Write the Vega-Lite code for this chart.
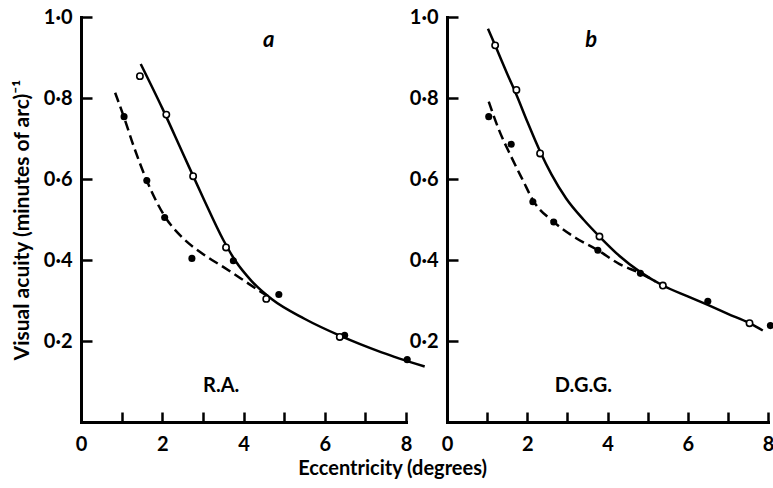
{
  "$schema": "https://vega.github.io/schema/vega-lite/v6.json",
  "background": "white",
  "padding": {"left": 11, "top": 7, "right": 0, "bottom": 4},
  "spacing": 41,
  "bounds": "flush",
  "config": {
    "view": {"stroke": null},
    "font": "Lato",
    "axis": {
      "grid": false,
      "domainColor": "black",
      "domainWidth": 3,
      "domainCap": "square",
      "ticks": true,
      "tickColor": "black",
      "tickWidth": 2.5,
      "labelFont": "Lato",
      "labelFontWeight": "bold",
      "labelFontSize": 20,
      "labelColor": "black",
      "labelFlush": false,
      "labelOverlap": false,
      "titleFont": "Lato",
      "titleFontWeight": "bold",
      "titleFontSize": 21,
      "titleColor": "black"
    }
  },
  "title": {
    "text": "Eccentricity (degrees)",
    "orient": "bottom",
    "anchor": "middle",
    "frame": "bounds",
    "font": "Lato",
    "fontSize": 20,
    "fontWeight": "bold",
    "color": "black",
    "offset": 5
  },
  "datasets": {
    "curves": [
      {"panel": "a", "curve": "solid", "x": 1.47, "y": 0.884},
      {"panel": "a", "curve": "solid", "x": 2.0, "y": 0.775},
      {"panel": "a", "curve": "solid", "x": 2.5, "y": 0.665},
      {"panel": "a", "curve": "solid", "x": 3.0, "y": 0.555},
      {"panel": "a", "curve": "solid", "x": 3.5, "y": 0.45},
      {"panel": "a", "curve": "solid", "x": 3.8, "y": 0.398},
      {"panel": "a", "curve": "solid", "x": 4.2, "y": 0.348},
      {"panel": "a", "curve": "solid", "x": 4.7, "y": 0.303},
      {"panel": "a", "curve": "solid", "x": 5.5, "y": 0.255},
      {"panel": "a", "curve": "solid", "x": 6.4, "y": 0.212},
      {"panel": "a", "curve": "solid", "x": 7.4, "y": 0.172},
      {"panel": "a", "curve": "solid", "x": 8.46, "y": 0.137},
      {"panel": "a", "curve": "dashed", "x": 0.84, "y": 0.813},
      {"panel": "a", "curve": "dashed", "x": 1.06, "y": 0.752},
      {"panel": "a", "curve": "dashed", "x": 1.3, "y": 0.68},
      {"panel": "a", "curve": "dashed", "x": 1.62, "y": 0.596},
      {"panel": "a", "curve": "dashed", "x": 2.06, "y": 0.508},
      {"panel": "a", "curve": "dashed", "x": 2.5, "y": 0.455},
      {"panel": "a", "curve": "dashed", "x": 3.0, "y": 0.415},
      {"panel": "a", "curve": "dashed", "x": 3.5, "y": 0.383},
      {"panel": "a", "curve": "dashed", "x": 4.0, "y": 0.35},
      {"panel": "a", "curve": "dashed", "x": 4.42, "y": 0.322},
      {"panel": "a", "curve": "dashed", "x": 4.7, "y": 0.305},
      {"panel": "b", "curve": "solid", "x": 1.02, "y": 0.971},
      {"panel": "b", "curve": "solid", "x": 1.2, "y": 0.93},
      {"panel": "b", "curve": "solid", "x": 1.5, "y": 0.86},
      {"panel": "b", "curve": "solid", "x": 1.73, "y": 0.808},
      {"panel": "b", "curve": "solid", "x": 2.0, "y": 0.742},
      {"panel": "b", "curve": "solid", "x": 2.32, "y": 0.668},
      {"panel": "b", "curve": "solid", "x": 2.6, "y": 0.612},
      {"panel": "b", "curve": "solid", "x": 2.97, "y": 0.552},
      {"panel": "b", "curve": "solid", "x": 3.4, "y": 0.5},
      {"panel": "b", "curve": "solid", "x": 3.8, "y": 0.458},
      {"panel": "b", "curve": "solid", "x": 4.3, "y": 0.41},
      {"panel": "b", "curve": "solid", "x": 4.82, "y": 0.37},
      {"panel": "b", "curve": "solid", "x": 5.38, "y": 0.337},
      {"panel": "b", "curve": "solid", "x": 6.0, "y": 0.31},
      {"panel": "b", "curve": "solid", "x": 6.5, "y": 0.289},
      {"panel": "b", "curve": "solid", "x": 7.0, "y": 0.267},
      {"panel": "b", "curve": "solid", "x": 7.54, "y": 0.244},
      {"panel": "b", "curve": "solid", "x": 7.87, "y": 0.226},
      {"panel": "b", "curve": "dashed", "x": 1.04, "y": 0.791},
      {"panel": "b", "curve": "dashed", "x": 1.3, "y": 0.72},
      {"panel": "b", "curve": "dashed", "x": 1.6, "y": 0.655},
      {"panel": "b", "curve": "dashed", "x": 1.9, "y": 0.595},
      {"panel": "b", "curve": "dashed", "x": 2.14, "y": 0.548},
      {"panel": "b", "curve": "dashed", "x": 2.66, "y": 0.494},
      {"panel": "b", "curve": "dashed", "x": 3.2, "y": 0.455},
      {"panel": "b", "curve": "dashed", "x": 3.76, "y": 0.424},
      {"panel": "b", "curve": "dashed", "x": 4.3, "y": 0.39},
      {"panel": "b", "curve": "dashed", "x": 4.82, "y": 0.367},
      {"panel": "b", "curve": "dashed", "x": 5.2, "y": 0.347}
    ],
    "points": [
      {"panel": "a", "kind": "open", "x": 1.45, "y": 0.854},
      {"panel": "a", "kind": "open", "x": 2.1, "y": 0.759},
      {"panel": "a", "kind": "open", "x": 2.76, "y": 0.607},
      {"panel": "a", "kind": "open", "x": 3.57, "y": 0.431},
      {"panel": "a", "kind": "open", "x": 4.56, "y": 0.304},
      {"panel": "a", "kind": "open", "x": 6.37, "y": 0.21},
      {"panel": "a", "kind": "filled", "x": 1.06, "y": 0.754},
      {"panel": "a", "kind": "filled", "x": 1.62, "y": 0.596},
      {"panel": "a", "kind": "filled", "x": 2.06, "y": 0.505},
      {"panel": "a", "kind": "filled", "x": 2.73, "y": 0.404},
      {"panel": "a", "kind": "filled", "x": 3.75, "y": 0.398},
      {"panel": "a", "kind": "filled", "x": 4.87, "y": 0.315},
      {"panel": "a", "kind": "filled", "x": 6.49, "y": 0.214},
      {"panel": "a", "kind": "filled", "x": 8.03, "y": 0.154},
      {"panel": "b", "kind": "open", "x": 1.2, "y": 0.93},
      {"panel": "b", "kind": "open", "x": 1.73, "y": 0.82},
      {"panel": "b", "kind": "open", "x": 2.32, "y": 0.663},
      {"panel": "b", "kind": "open", "x": 3.8, "y": 0.458},
      {"panel": "b", "kind": "open", "x": 5.38, "y": 0.337},
      {"panel": "b", "kind": "open", "x": 7.54, "y": 0.244},
      {"panel": "b", "kind": "filled", "x": 1.04, "y": 0.754},
      {"panel": "b", "kind": "filled", "x": 1.6, "y": 0.686},
      {"panel": "b", "kind": "filled", "x": 2.14, "y": 0.544},
      {"panel": "b", "kind": "filled", "x": 2.66, "y": 0.494},
      {"panel": "b", "kind": "filled", "x": 3.76, "y": 0.424},
      {"panel": "b", "kind": "filled", "x": 4.82, "y": 0.367},
      {"panel": "b", "kind": "filled", "x": 6.5, "y": 0.298},
      {"panel": "b", "kind": "filled", "x": 8.06, "y": 0.238}
    ],
    "labels": [
      {"panel": "a", "kind": "letter", "x": 4.62, "y": 0.943, "text": "a"},
      {"panel": "a", "kind": "name", "x": 3.45, "y": 0.089, "text": "R.A."},
      {"panel": "b", "kind": "letter", "x": 3.59, "y": 0.943, "text": "b"},
      {"panel": "b", "kind": "name", "x": 3.4, "y": 0.089, "text": "D.G.G."}
    ]
  },
  "hconcat": [
    {
      "width": 325,
      "height": 405,
      "resolve": {"axis": {"x": "independent", "y": "independent"}},
      "layer": [
        {
          "data": {"name": "curves"},
          "transform": [{"filter": "datum.panel == 'a' && datum.curve == 'solid'"}],
          "mark": {"type": "line", "color": "black", "strokeWidth": 2.5, "interpolate": "monotone", "clip": false},
          "encoding": {
            "x": {"field": "x", "type": "quantitative", "scale": {"domain": [0, 8], "nice": false, "zero": false},
              "axis": {"orient": "bottom", "values": [0, 1, 2, 3, 4, 5, 6, 7, 8], "labelExpr": "datum.value % 2 == 0 ? datum.label : ''", "ticks": true, "tickSize": -10, "labelPadding": 22, "title": null}},
            "y": {"field": "y", "type": "quantitative", "scale": {"domain": [0, 1], "nice": false},
              "axis": {"orient": "left", "values": [0.2, 0.4, 0.6, 0.8, 1.0], "labelExpr": "replace(format(datum.value, '.1f'), '.', '·')", "ticks": true, "tickSize": -11, "labelPadding": 20, "title": "Visual acuity (minutes of arc)⁻¹", "titlePadding": 11}}
          }
        },
        {
          "data": {"name": "curves"},
          "transform": [{"filter": "datum.panel == 'a' && datum.curve == 'dashed'"}],
          "mark": {"type": "line", "color": "black", "strokeWidth": 2.5, "strokeDash": [10, 5], "interpolate": "monotone", "clip": false},
          "encoding": {"x": {"field": "x", "type": "quantitative", "axis": null}, "y": {"field": "y", "type": "quantitative", "axis": null}}
        },
        {
          "data": {"name": "points"},
          "transform": [{"filter": "datum.panel == 'a' && datum.kind == 'filled'"}],
          "mark": {"type": "circle", "color": "black", "size": 50, "opacity": 1},
          "encoding": {"x": {"field": "x", "type": "quantitative", "axis": null}, "y": {"field": "y", "type": "quantitative", "axis": null}}
        },
        {
          "data": {"name": "points"},
          "transform": [{"filter": "datum.panel == 'a' && datum.kind == 'open'"}],
          "mark": {"type": "circle", "fill": "white", "stroke": "black", "strokeWidth": 1.6, "size": 40, "opacity": 1},
          "encoding": {"x": {"field": "x", "type": "quantitative", "axis": null}, "y": {"field": "y", "type": "quantitative", "axis": null}}
        },
        {
          "data": {"name": "labels"},
          "transform": [{"filter": "datum.panel == 'a' && datum.kind == 'letter'"}],
          "mark": {"type": "text", "font": "Lato", "fontSize": 22, "fontWeight": "bold", "fontStyle": "italic", "color": "black", "align": "center", "baseline": "middle"},
          "encoding": {"x": {"field": "x", "type": "quantitative", "axis": null}, "y": {"field": "y", "type": "quantitative", "axis": null}, "text": {"field": "text"}}
        },
        {
          "data": {"name": "labels"},
          "transform": [{"filter": "datum.panel == 'a' && datum.kind == 'name'"}],
          "mark": {"type": "text", "font": "Lato", "fontSize": 20, "fontWeight": "bold", "color": "black", "align": "center", "baseline": "middle"},
          "encoding": {"x": {"field": "x", "type": "quantitative", "axis": null}, "y": {"field": "y", "type": "quantitative", "axis": null}, "text": {"field": "text"}}
        }
      ]
    },
    {
      "width": 321,
      "height": 405,
      "resolve": {"axis": {"x": "independent", "y": "independent"}},
      "layer": [
        {
          "data": {"name": "curves"},
          "transform": [{"filter": "datum.panel == 'b' && datum.curve == 'solid'"}],
          "mark": {"type": "line", "color": "black", "strokeWidth": 2.5, "interpolate": "monotone", "clip": false},
          "encoding": {
            "x": {"field": "x", "type": "quantitative", "scale": {"domain": [0, 8], "nice": false, "zero": false},
              "axis": {"orient": "bottom", "values": [0, 1, 2, 3, 4, 5, 6, 7, 8], "labelExpr": "datum.value % 2 == 0 ? datum.label : ''", "ticks": true, "tickSize": -10, "labelPadding": 22, "title": null}},
            "y": {"field": "y", "type": "quantitative", "scale": {"domain": [0, 1], "nice": false},
              "axis": {"orient": "left", "values": [0.2, 0.4, 0.6, 0.8, 1.0], "labelExpr": "replace(format(datum.value, '.1f'), '.', '·')", "ticks": true, "tickSize": -11, "labelPadding": 20, "title": null}}
          }
        },
        {
          "data": {"name": "curves"},
          "transform": [{"filter": "datum.panel == 'b' && datum.curve == 'dashed'"}],
          "mark": {"type": "line", "color": "black", "strokeWidth": 2.5, "strokeDash": [10, 5], "interpolate": "monotone", "clip": false},
          "encoding": {"x": {"field": "x", "type": "quantitative", "axis": null}, "y": {"field": "y", "type": "quantitative", "axis": null}}
        },
        {
          "data": {"name": "points"},
          "transform": [{"filter": "datum.panel == 'b' && datum.kind == 'filled'"}],
          "mark": {"type": "circle", "color": "black", "size": 50, "opacity": 1},
          "encoding": {"x": {"field": "x", "type": "quantitative", "axis": null}, "y": {"field": "y", "type": "quantitative", "axis": null}}
        },
        {
          "data": {"name": "points"},
          "transform": [{"filter": "datum.panel == 'b' && datum.kind == 'open'"}],
          "mark": {"type": "circle", "fill": "white", "stroke": "black", "strokeWidth": 1.6, "size": 40, "opacity": 1},
          "encoding": {"x": {"field": "x", "type": "quantitative", "axis": null}, "y": {"field": "y", "type": "quantitative", "axis": null}}
        },
        {
          "data": {"name": "labels"},
          "transform": [{"filter": "datum.panel == 'b' && datum.kind == 'letter'"}],
          "mark": {"type": "text", "font": "Lato", "fontSize": 22, "fontWeight": "bold", "fontStyle": "italic", "color": "black", "align": "center", "baseline": "middle"},
          "encoding": {"x": {"field": "x", "type": "quantitative", "axis": null}, "y": {"field": "y", "type": "quantitative", "axis": null}, "text": {"field": "text"}}
        },
        {
          "data": {"name": "labels"},
          "transform": [{"filter": "datum.panel == 'b' && datum.kind == 'name'"}],
          "mark": {"type": "text", "font": "Lato", "fontSize": 20, "fontWeight": "bold", "color": "black", "align": "center", "baseline": "middle"},
          "encoding": {"x": {"field": "x", "type": "quantitative", "axis": null}, "y": {"field": "y", "type": "quantitative", "axis": null}, "text": {"field": "text"}}
        }
      ]
    }
  ]
}
